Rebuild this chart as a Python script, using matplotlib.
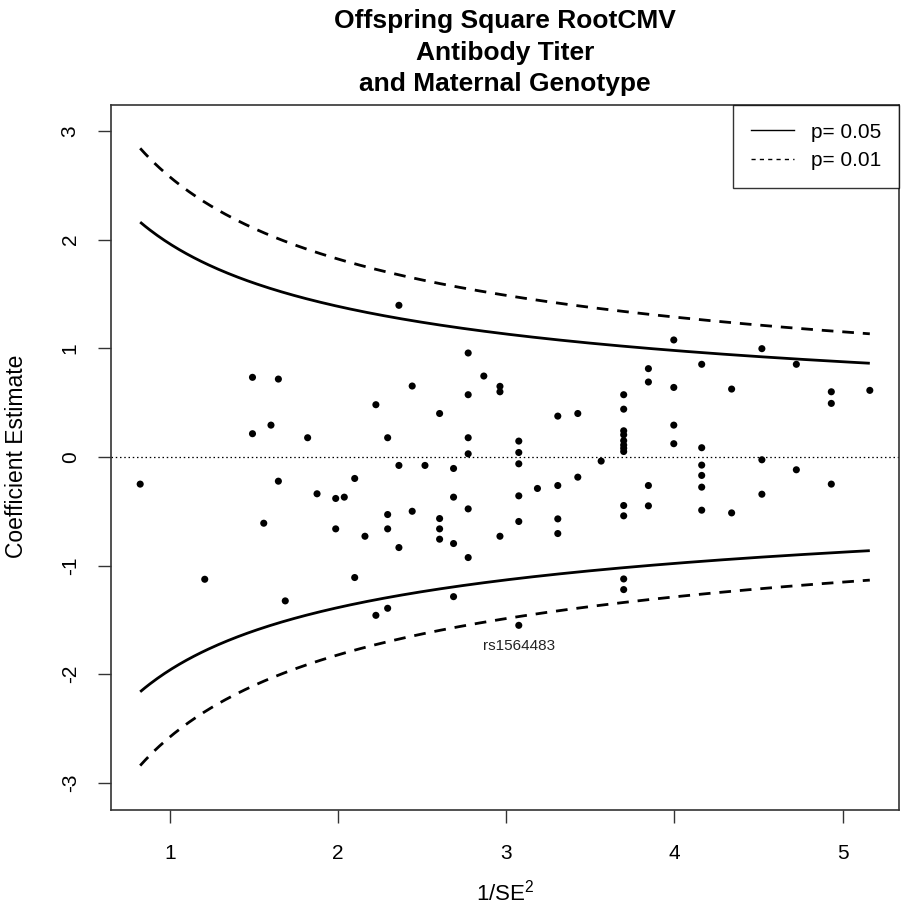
import numpy as np
import matplotlib
matplotlib.use("Agg")
import matplotlib.pyplot as plt
from matplotlib.lines import Line2D

plt.rcParams["font.family"] = ["Liberation Sans", "DejaVu Sans"]
plt.rcParams["mathtext.fontset"] = "custom"
plt.rcParams["mathtext.rm"] = "Liberation Sans"
plt.rcParams["mathtext.it"] = "Liberation Sans"

# Precision (1/SE^2) and coefficient estimate for each SNP
precision = [
    0.822, 1.206, 1.49, 1.49, 1.557, 1.60, 1.644, 1.644, 1.685, 1.818,
    1.874, 1.985, 1.985, 2.036, 2.098, 2.098, 2.159, 2.224, 2.224,
    2.294, 2.294, 2.294, 2.294, 2.361, 2.361, 2.361, 2.44, 2.44, 2.516,
    2.603, 2.603, 2.603, 2.603, 2.686, 2.686, 2.686, 2.686,
    2.773, 2.773, 2.773, 2.773, 2.773, 2.773, 2.866, 2.962, 2.962, 2.962,
    3.074, 3.074, 3.074, 3.074, 3.074, 3.074, 3.185,
    3.306, 3.306, 3.306, 3.306, 3.425, 3.425, 3.564,
    3.698, 3.698, 3.698, 3.698, 3.698, 3.698, 3.698, 3.698, 3.698, 3.698,
    3.698, 3.698,
    3.845, 3.845, 3.845, 3.845, 3.996, 3.996, 3.996, 3.996,
    4.162, 4.162, 4.162, 4.162, 4.162, 4.162, 4.34, 4.34,
    4.52, 4.52, 4.52, 4.725, 4.725, 4.933, 4.933, 4.933, 5.162,
]
estimate = [
    -0.25, -1.126, 0.733, 0.214, -0.61, 0.293, 0.717, -0.223, -1.325, 0.177,
    -0.339, -0.382, -0.662, -0.37, -0.198, -1.11, -0.73, 0.481, -1.458,
    0.177, -0.53, -0.662, -1.393, 1.396, -0.078, -0.834, 0.653, -0.50, -0.078,
    0.40, -0.567, -0.662, -0.757, -0.106, -0.37, -0.797, -1.286,
    0.957, 0.573, 0.177, 0.029, -0.478, -0.926, 0.745, 0.65, 0.60, -0.73,
    0.146, 0.041, -0.063, -0.358, -0.594, -1.55, -0.29,
    0.376, -0.263, -0.57, -0.705, 0.40, -0.186, -0.038,
    0.573, 0.44, 0.241, 0.204, 0.15, 0.11, 0.08, 0.05, -0.447, -0.542,
    -1.123, -1.221,
    0.813, 0.69, -0.263, -0.45, 1.077, 0.64, 0.293, 0.122,
    0.853, 0.085, -0.075, -0.17, -0.278, -0.49, 0.625, -0.515,
    0.997, -0.026, -0.343, 0.853, -0.118, 0.60, 0.493, -0.25, 0.613,
]

# Highlighted SNP
label_snp = "rs1564483"
label_x = 3.074
label_y = -1.55

# Two-sided critical values for the funnel bounds
z_05 = 1.959964
z_01 = 2.575829

x_ticks = [1, 2, 3, 4, 5]
y_ticks = [-3, -2, -1, 0, 1, 2, 3]

W, H = 903, 922
fig = plt.figure(figsize=(W / 100, H / 100), dpi=100)
ax = fig.add_axes([111 / W, 1 - 810 / H, (899 - 111) / W, (810 - 105) / H])

x = np.array(precision)
y = np.array(estimate)
grid = np.linspace(x.min(), x.max(), 300)
se = 1.0 / np.sqrt(grid)

lw_curve = 2.0
dash = (0, (4.2, 3.2))
ax.plot(grid, z_05 * se, color="black", lw=lw_curve, solid_capstyle="butt")
ax.plot(grid, -z_05 * se, color="black", lw=lw_curve, solid_capstyle="butt")
ax.plot(grid, z_01 * se, color="black", lw=lw_curve, ls=dash)
ax.plot(grid, -z_01 * se, color="black", lw=lw_curve, ls=dash)
ax.axhline(0, color="black", lw=0.9, ls=(0, (1.2, 2.2)))

ax.scatter(x, y, s=26, color="black", edgecolors="none", zorder=3)

ax.annotate(label_snp, (label_x, label_y), xytext=(0, -15),
            textcoords="offset points", ha="center", va="center",
            fontsize=11, color="#222222")

span = x.max() - x.min()
ax.set_xlim(x.min() - 0.04 * span, x.max() + 0.04 * span)
ax.set_ylim(-3.25, 3.24)
ax.set_xticks(x_ticks)
ax.set_yticks(y_ticks)
ax.set_xticklabels([str(t) for t in x_ticks])
ax.set_yticklabels([str(t) for t in y_ticks], rotation=90, va="center")

for s in ax.spines.values():
    s.set_color("#333333")
    s.set_linewidth(1.2)
ax.tick_params(axis="both", direction="out", length=9.5, width=1.0,
               color="#333333", labelsize=15, pad=15)
ax.tick_params(axis="y", pad=13)

handles = [
    Line2D([], [], color="black", lw=1.0),
    Line2D([], [], color="black", lw=1.0, ls=(0, (3, 3))),
]
leg = ax.legend(handles, ["p= 0.05", "p= 0.01"], loc="upper right",
                bbox_to_anchor=(1.0, 1.0), borderaxespad=0, fontsize=15,
                frameon=True, fancybox=False, handlelength=2.1,
                handletextpad=0.8, borderpad=0.85, labelspacing=0.45)
leg.get_frame().set_edgecolor("black")
leg.get_frame().set_linewidth(1.0)

ax.set_title("Offspring Square RootCMV\nAntibody Titer\nand Maternal Genotype",
             fontsize=19, fontweight="bold", linespacing=1.4, pad=10)

fig.text(505 / W, 1 - 893 / H, r"$1/\mathrm{SE}^2$", ha="center",
         va="center", fontsize=16)
fig.text(17 / W, 1 - 456 / H, "Coefficient Estimate", ha="center",
         va="center", rotation=90, fontsize=16.5)

fig.savefig("out.png", dpi=100)
